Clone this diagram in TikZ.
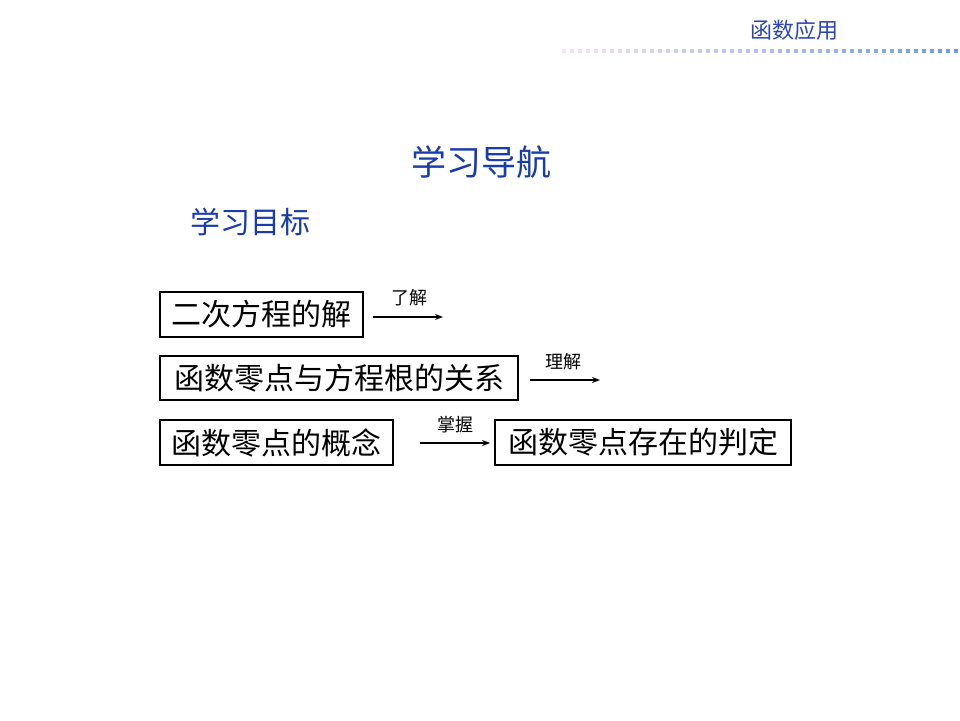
\documentclass[tikz,border=0pt]{standalone}
\usepackage{fontspec}
\newfontfamily\cjk{Noto Sans CJK SC}
\usetikzlibrary{arrows.meta}
\definecolor{hdblue}{RGB}{40,70,180}
\definecolor{ttblue}{RGB}{25,60,170}
\definecolor{dotL}{RGB}{246,226,242}
\definecolor{dotR}{RGB}{105,155,240}
\tikzset{
  box/.style={draw=black,line width=1.8pt,minimum height=45pt,inner sep=0pt,
    font=\cjk\fontsize{30}{30}\selectfont},
  lab/.style={font=\cjk\fontsize{18}{18}\selectfont,inner sep=0pt},
  arr/.style={line width=1.1pt,-{Stealth[length=8pt,width=6pt]}},
  dotsq/.style={minimum size=4pt,inner sep=0pt,draw=none}
}
\begin{document}
\begin{tikzpicture}[x=1pt,y=-1pt]
\useasboundingbox (0,0) rectangle (960,720);
% header
\node[font=\cjk\fontsize{22}{22}\selectfont,text=hdblue,inner sep=0pt] (hd) at (794,30) {函数应用};
\foreach \i in {0,...,49}{
  \pgfmathsetmacro{\p}{100*\i/49}
  \fill[dotR!\p!dotL] (564+8*\i-2,51-2) rectangle ++(4,4);
}
% titles
\node[font=\cjk\fontsize{35}{35}\selectfont,text=ttblue,inner sep=0pt] (title) at (481,162) {学习导航};
\node[font=\cjk\fontsize{30}{30}\selectfont,text=ttblue,inner sep=0pt] (sub) at (250,222) {学习目标};
% boxes
\node[box,minimum width=203pt] (b1) at (261.5,314.5) {二次方程的解};
\node[box,minimum width=358pt,minimum height=44pt] (b2) at (339,378) {函数零点与方程根的关系};
\node[box,minimum width=233pt] (b3) at (276.5,442.5) {函数零点的概念};
\node[box,minimum width=296pt] (b4) at (643,442.5) {函数零点存在的判定};
% arrows
\coordinate (a1s) at (373,317);
\coordinate (a1e) at (443,317);
\coordinate (a2s) at (530,380);
\coordinate (a2e) at (600,380);
\coordinate (a3s) at (420,443);
\draw[arr] (a1s) -- (a1e);
\draw[arr] (a2s) -- (a2e);
\draw[arr,shorten >=4pt] (a3s) -- (b4.west |- a3s);
\node[lab] (l1) at (409,298) {了解};
\node[lab] (l2) at (563,362) {理解};
\node[lab] (l3) at (455,425) {掌握};
\end{tikzpicture}
\end{document}
